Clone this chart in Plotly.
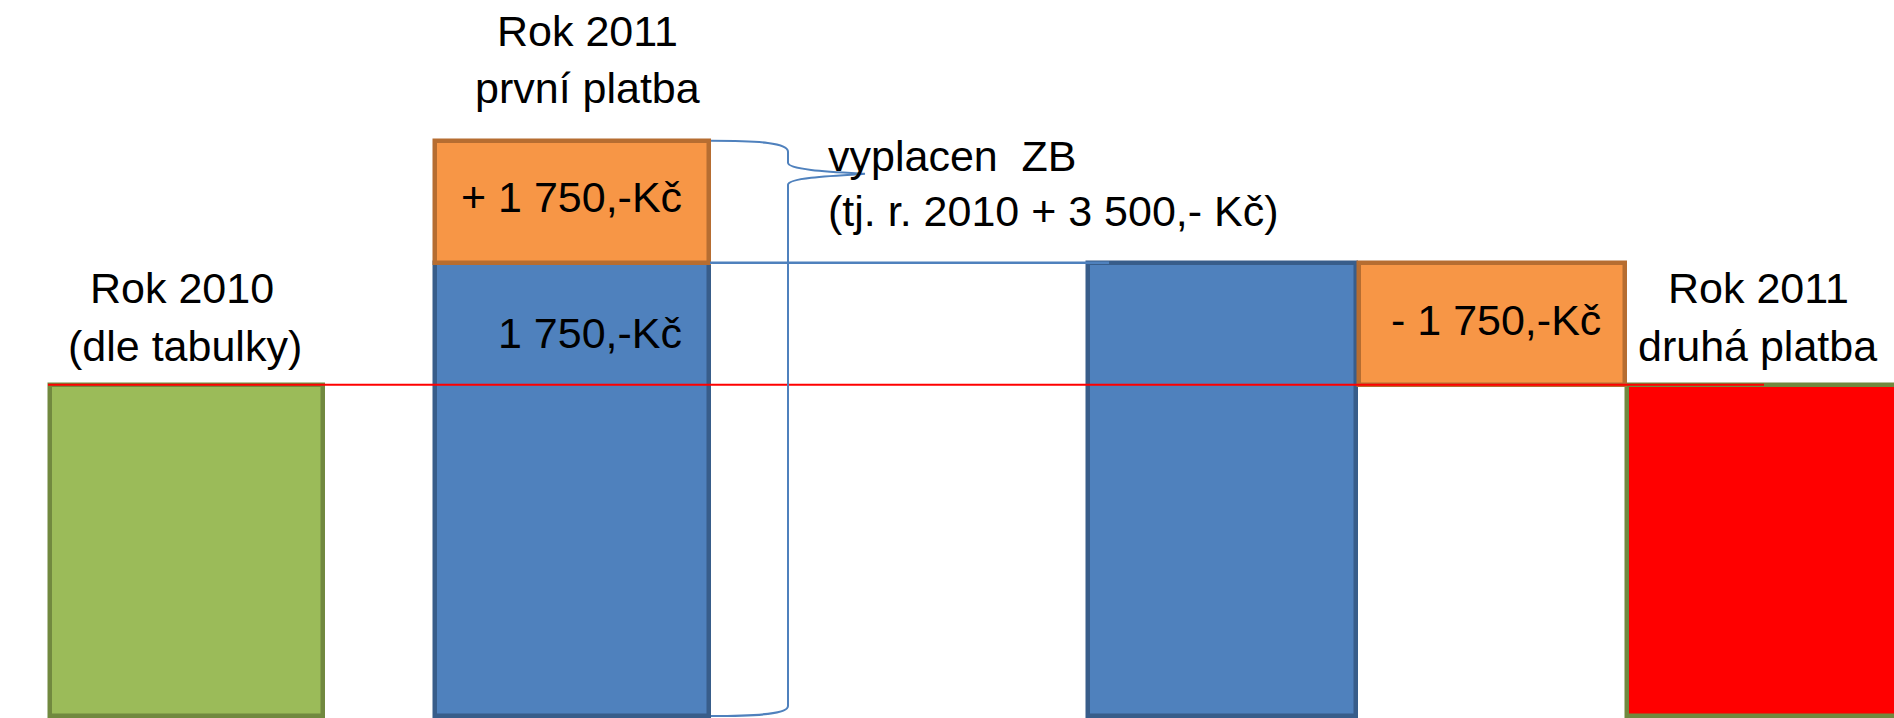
import plotly.graph_objects as go

# ---------------- data ----------------
popisky = ["Rok 2010", "Rok 2011 – první platba", "Rok 2011 – druhá platba"]
rok_2010 = 4750            # odhad výšky sloupce (Kč) vzhledem k 1 750 Kč
zmena = 1750               # +/- 1 750 Kč
texty_hodnot = ["+ 1 750,-Kč", "1 750,-Kč", "- 1 750,-Kč"]
text_zb = ["vyplacen\u00a0\u00a0ZB", "(tj. r. 2010 + 3 500,- Kč)"]

# ---------------- layout geometry ----------------
W, H = 1894, 718
px_per_kc = 122 / zmena          # vertical scale
base_px = 716                    # pixel row of value 0
FONT = "Liberation Sans, Arial, sans-serif"
FS = 43

def ypx(px):
    """pixel row -> paper fraction"""
    return 1 - px / H

GREEN, GREEN_LINE = "#9BBB59", "#71893F"
BLUE, BLUE_LINE = "#4F81BD", "#385D8A"
ORANGE, ORANGE_LINE = "#F79646", "#B66D31"
RED = "#FF0000"

blue_val = rok_2010 + zmena
top_val = blue_val + zmena

fig = go.Figure()

# green bar (2010)
fig.add_trace(go.Bar(x=[186.5], y=[rok_2010], base=[0], width=[273],
                     marker=dict(color=GREEN, line=dict(color=GREEN_LINE, width=4.5))))
# blue bars (2010 + 1750)
fig.add_trace(go.Bar(x=[572, 1222], y=[blue_val, blue_val], base=[0, 0], width=[274, 268],
                     marker=dict(color=BLUE, line=dict(color=BLUE_LINE, width=4.5))))
# red bar (second payment)
fig.add_trace(go.Bar(x=[1777], y=[rok_2010], base=[0], width=[300],
                     marker=dict(color=RED, line=dict(color=GREEN_LINE, width=4.5))))
# orange bars (+1750 / -1750)
fig.add_trace(go.Bar(x=[572, 1492], y=[zmena, zmena], base=[blue_val, rok_2010], width=[274, 266],
                     marker=dict(color=ORANGE, line=dict(color=ORANGE_LINE, width=4.5))))

# red reference line at 2010 level
fig.add_trace(go.Scatter(x=[48, 1764], y=[rok_2010, rok_2010], mode="lines",
                         line=dict(color=RED, width=2)))
# blue reference line at 2010 + 1750 level
fig.add_trace(go.Scatter(x=[710, 1109], y=[blue_val, blue_val], mode="lines",
                         line=dict(color=BLUE, width=2.5)))

# curly brace from top of first payment to the base
def Y(off_px, ref):
    return ref - off_px / px_per_kc

t = top_val
b = 0
path = (f"M 711,{t} C 760,{t} 788,{Y(2, t)} 788,{Y(11, t)} "
        f"L 788,{Y(22, t)} C 788,{Y(29, t)} 830,{Y(31, t)} 865,{Y(33, t)} "
        f"C 830,{Y(35, t)} 788,{Y(37, t)} 788,{Y(44, t)} "
        f"L 788,{Y(-10, b)} C 788,{Y(-2, b)} 760,{b} 711,{b}")
fig.add_shape(type="path", path=path, xref="x", yref="y",
              line=dict(color=BLUE, width=2), layer="above")

ann = []
def add_text(txt, x, ypix, xanchor="center"):
    ann.append(dict(text=txt, x=x, y=ypx(ypix), xref="x", yref="paper",
                    xanchor=xanchor, yanchor="middle", showarrow=False,
                    font=dict(family=FONT, size=FS, color="black")))

add_text("Rok 2010", 182, 288)
add_text("(dle tabulky)", 185, 346)
add_text("Rok 2011", 587, 31)
add_text("první platba", 587, 88)
add_text(texty_hodnot[0], 684, 197, "right")
add_text(texty_hodnot[1], 684, 333, "right")
add_text(texty_hodnot[2], 1496, 320)
add_text("Rok 2011", 1758, 288)
add_text("druhá platba", 1757, 346)
add_text(text_zb[0], 826, 156, "left")
add_text(text_zb[1], 826, 211, "left")

fig.update_layout(
    width=W, height=H,
    margin=dict(l=0, r=0, t=0, b=0, pad=0),
    paper_bgcolor="white", plot_bgcolor="white",
    barmode="overlay", bargap=0, showlegend=False,
    xaxis=dict(range=[0, W], visible=False, fixedrange=True),
    yaxis=dict(range=[-(H - base_px) / px_per_kc, base_px / px_per_kc],
               visible=False, fixedrange=True),
    annotations=ann,
)

fig.write_html("out.html", config={"displayModeBar": False},
               post_script="document.body.style.margin='0';document.body.style.padding='0';document.body.style.overflow='hidden';")
